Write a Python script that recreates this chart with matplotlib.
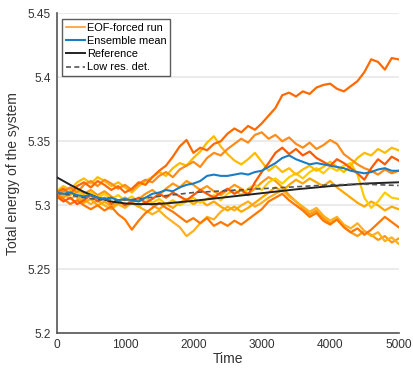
import numpy as np
import matplotlib.pyplot as plt

plt.rcParams['font.family'] = ['Liberation Sans', 'DejaVu Sans']

# time axis for the stochastic runs (one value every 100 time units)
t_runs = np.arange(0, 5001, 100)

run_top = [5.310, 5.313, 5.309, 5.315, 5.318, 5.314, 5.319, 5.316, 5.312, 5.315, 5.310, 5.313, 5.318, 5.316, 5.322, 5.327,
           5.331, 5.338, 5.346, 5.351, 5.341, 5.345, 5.343, 5.348, 5.350, 5.356,
           5.360, 5.357, 5.362, 5.359, 5.364, 5.370, 5.376, 5.386, 5.388, 5.385,
           5.389, 5.387, 5.392, 5.394, 5.395, 5.391, 5.389, 5.393, 5.397, 5.404,
           5.414, 5.412, 5.406, 5.415, 5.414]
run_b = [5.308, 5.311, 5.314, 5.310, 5.316, 5.319, 5.315, 5.320, 5.317, 5.313, 5.316, 5.312, 5.317, 5.320, 5.318, 5.323,
         5.326, 5.322, 5.328, 5.331, 5.334, 5.330, 5.337, 5.341, 5.339, 5.344,
         5.348, 5.352, 5.349, 5.355, 5.357, 5.352, 5.355, 5.350, 5.353, 5.348,
         5.345, 5.349, 5.344, 5.347, 5.351, 5.348, 5.340, 5.336, 5.332, 5.329,
         5.327, 5.324, 5.328, 5.325, 5.327]
run_c = [5.307, 5.303, 5.306, 5.301, 5.304, 5.308, 5.303, 5.306, 5.301, 5.304, 5.300, 5.303, 5.306, 5.302, 5.305, 5.309,
         5.306, 5.310, 5.307, 5.304, 5.308, 5.312, 5.309, 5.306, 5.310, 5.313,
         5.309, 5.312, 5.308, 5.318, 5.326, 5.333, 5.341, 5.345, 5.340, 5.344,
         5.339, 5.342, 5.337, 5.334, 5.331, 5.336, 5.333, 5.329, 5.325, 5.320,
         5.329, 5.336, 5.332, 5.338, 5.335]
run_d = [5.311, 5.315, 5.312, 5.318, 5.321, 5.317, 5.322, 5.319, 5.315, 5.318, 5.314, 5.310, 5.315, 5.319, 5.322, 5.326,
         5.323, 5.329, 5.333, 5.331, 5.337, 5.342, 5.349, 5.354, 5.346, 5.340,
         5.335, 5.332, 5.336, 5.341, 5.334, 5.327, 5.331, 5.326, 5.329, 5.324,
         5.328, 5.331, 5.327, 5.330, 5.334, 5.330, 5.326, 5.331, 5.337, 5.341,
         5.339, 5.344, 5.341, 5.345, 5.343]
run_e = [5.309, 5.312, 5.308, 5.311, 5.307, 5.310, 5.306, 5.309, 5.305, 5.308, 5.304, 5.307, 5.303, 5.306, 5.302, 5.305,
         5.301, 5.304, 5.300, 5.303, 5.306, 5.302, 5.305, 5.308, 5.304, 5.309,
         5.312, 5.308, 5.313, 5.316, 5.312, 5.318, 5.321, 5.317, 5.322, 5.325,
         5.321, 5.326, 5.329, 5.325, 5.330, 5.327, 5.331, 5.333, 5.324, 5.306,
         5.298, 5.303, 5.310, 5.306, 5.305]
run_f = [5.310, 5.307, 5.311, 5.306, 5.302, 5.305, 5.300, 5.303, 5.299, 5.302, 5.306, 5.302, 5.299, 5.303, 5.300, 5.297,
         5.301, 5.298, 5.302, 5.305, 5.301, 5.304, 5.300, 5.303, 5.299, 5.296,
         5.299, 5.295, 5.298, 5.302, 5.306, 5.310, 5.314, 5.311, 5.316, 5.320,
         5.317, 5.321, 5.318, 5.315, 5.319, 5.314, 5.310, 5.306, 5.302, 5.299,
         5.303, 5.300, 5.296, 5.299, 5.297]
run_g = [5.312, 5.309, 5.305, 5.308, 5.304, 5.301, 5.304, 5.300, 5.297, 5.301, 5.298, 5.302, 5.299, 5.296, 5.293, 5.296,
         5.291, 5.287, 5.283, 5.276, 5.280, 5.286, 5.291, 5.289, 5.295, 5.299,
         5.296, 5.300, 5.303, 5.299, 5.302, 5.306, 5.309, 5.312, 5.307, 5.303,
         5.299, 5.295, 5.298, 5.292, 5.288, 5.291, 5.285, 5.282, 5.286, 5.280,
         5.276, 5.279, 5.272, 5.275, 5.270]
run_h = [5.308, 5.305, 5.301, 5.304, 5.300, 5.297, 5.300, 5.296, 5.299, 5.293, 5.289, 5.281, 5.288, 5.294, 5.298, 5.302,
         5.298, 5.295, 5.291, 5.287, 5.290, 5.286, 5.290, 5.284, 5.287, 5.284,
         5.288, 5.285, 5.289, 5.293, 5.297, 5.303, 5.306, 5.309, 5.304, 5.300,
         5.296, 5.291, 5.294, 5.288, 5.285, 5.289, 5.283, 5.279, 5.282, 5.277,
         5.281, 5.286, 5.291, 5.287, 5.283]
run_i = [5.309, 5.306, 5.310, 5.313, 5.309, 5.312, 5.308, 5.311, 5.307, 5.303, 5.306, 5.302, 5.305, 5.309, 5.312, 5.308,
         5.313, 5.317, 5.314, 5.319, 5.316, 5.312, 5.315, 5.311, 5.308, 5.312,
         5.316, 5.313, 5.309, 5.313, 5.318, 5.322, 5.319, 5.314, 5.308, 5.303,
         5.298, 5.293, 5.296, 5.290, 5.286, 5.289, 5.283, 5.279, 5.276, 5.280,
         5.277, 5.273, 5.276, 5.271, 5.274]

runs = [run_i, run_g, run_f, run_e, run_d, run_b, run_h, run_c, run_top]
run_colors = ['#ff9a10', '#ffb020', '#ffa800', '#ffcc00', '#ffbb00', '#ff8c1a', '#ff7800', '#ff5a00', '#ff6a00']

ens_mean = [5.310, 5.309, 5.310, 5.308, 5.307, 5.308, 5.306, 5.305, 5.306, 5.304, 5.305, 5.304, 5.303, 5.306, 5.309, 5.310,
            5.312, 5.311, 5.314, 5.316, 5.317, 5.319, 5.323, 5.324, 5.323, 5.323,
            5.324, 5.325, 5.324, 5.326, 5.327, 5.330, 5.333, 5.337, 5.339, 5.336,
            5.334, 5.332, 5.333, 5.332, 5.331, 5.330, 5.329, 5.327, 5.326, 5.325,
            5.326, 5.328, 5.329, 5.327, 5.327]

# deterministic curves
t_ref = [0, 200, 400, 600, 800, 1000, 1200, 1400, 1600, 1800, 2000, 2500, 3000, 3500, 4000, 4500, 5000]
reference = [5.322, 5.316, 5.3105, 5.306, 5.303, 5.3015, 5.301, 5.301, 5.3015, 5.3025, 5.3035,
             5.3065, 5.3095, 5.3125, 5.315, 5.317, 5.318]
t_low = [0, 200, 400, 600, 800, 1000, 1200, 1500, 2000, 2500, 3000, 3500, 4000, 4500, 5000]
low_res = [5.3095, 5.308, 5.306, 5.3045, 5.304, 5.3042, 5.305, 5.307, 5.310, 5.3115, 5.313,
           5.3145, 5.316, 5.3165, 5.3155]

fig = plt.figure(figsize=(4.13, 3.68), dpi=100)
ax = fig.add_axes([0.137, 0.094, 0.828, 0.870])

for y, c in zip(runs, run_colors):
    ax.plot(t_runs, y, color=c, lw=1.6, zorder=2)
ax.plot([], [], color='#ff9933', lw=1.2, label='EOF-forced run')
ax.plot(t_runs, ens_mean, color='#1a7dc4', lw=1.5, label='Ensemble mean', zorder=4)
ax.plot(t_ref, reference, color='#222222', lw=1.4, label='Reference', zorder=3)
ax.plot(t_low, low_res, color='#555555', lw=1.2, ls=(0, (3, 2)), label='Low res. det.', zorder=3)

ax.set_xlim(0, 5000)
ax.set_ylim(5.2, 5.45)
ax.set_xticks([0, 1000, 2000, 3000, 4000, 5000])
ax.set_yticks([5.2, 5.25, 5.3, 5.35, 5.4, 5.45])
ax.set_yticklabels(['5.2', '5.25', '5.3', '5.35', '5.4', '5.45'])
ax.grid(axis='y', color='#ebebeb', lw=1.5, zorder=0)
ax.set_axisbelow(True)
ax.tick_params(length=0, labelsize=8.6, colors='#333333', pad=4)
for s in ['top', 'right']:
    ax.spines[s].set_visible(False)
for s in ['left', 'bottom']:
    ax.spines[s].set_color('#555555')
    ax.spines[s].set_linewidth(1.2)

ax.set_xlabel('Time', fontsize=10, color='#333333', labelpad=1)
ax.set_ylabel('Total energy of the system', fontsize=10, color='#333333', labelpad=6)

leg = ax.legend(loc='upper left', fontsize=7.9, frameon=True, fancybox=False,
                handlelength=1.7, handletextpad=0.2, borderpad=0.35, labelspacing=0.3,
                borderaxespad=0.5)
leg.get_frame().set_edgecolor('#333333')
leg.get_frame().set_linewidth(1.0)

plt.savefig('out.png', dpi=100)
